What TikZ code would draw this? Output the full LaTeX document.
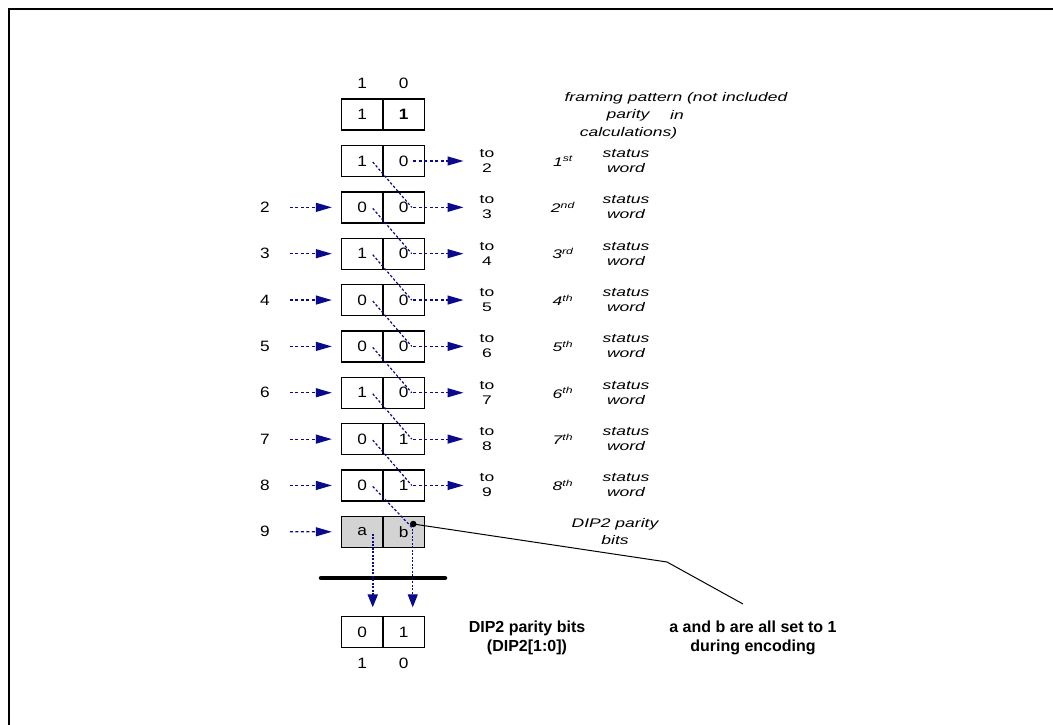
\documentclass[tikz,border=0pt]{standalone}
\usepackage{fontspec}
\setmainfont{Liberation Sans}
\usetikzlibrary{arrows.meta,calc}
\definecolor{navyb}{RGB}{10,10,140}
\definecolor{cellgray}{RGB}{211,211,211}
\newcommand\sx[1]{\scalebox{1.4}[1]{#1}}
\newcommand\sd[1]{\scalebox{1.15}[1]{#1}}
\begin{document}
\begin{tikzpicture}[x=1pt,y=-1pt,
 cell/.style={draw=black, line width=1.3pt, minimum width=41.5pt, minimum height=31pt, inner sep=0pt, font=\fontsize{15}{17}\selectfont},
 lab/.style={inner sep=0pt, font=\fontsize{15}{17}\selectfont},
 small/.style={inner sep=0pt, align=center, font=\fontsize{12.5}{15}\selectfont},
 ital/.style={inner sep=0pt, align=center, font=\fontsize{12.5}{15}\selectfont\itshape},
 boldt/.style={inner sep=0pt, align=center, font=\fontsize{16}{19}\selectfont\bfseries},
 darr/.style={navyb, line width=1.2pt, dash pattern=on 3pt off 2.5pt, -{Triangle[length=16pt,width=9pt]}},
 dline/.style={navyb, line width=1.2pt, dash pattern=on 2.5pt off 2pt},
 varr/.style={navyb, dash pattern=on 2pt off 1.5pt, -{Triangle[length=13pt,width=10pt]}},
]
\useasboundingbox (0,0) rectangle (1053,725);
% frame
\draw[line width=2.5pt] (9,725) -- (9,9) -- (1053,9);

% framing pattern box
\node[cell] (FL) at (362.25,114.5) {\sd{1}};
\node[cell] (FR) at (403.75,114.5) {\sd{\textbf{1}}};
\node[lab] (t1) at (362.25,83) {\sd{1}};
\node[lab] (t0) at (403.75,83) {\sd{0}};

% status word rows
\foreach \i/\l/\r/\o [evaluate=\i as \y using {161+(\i-1)*46.35}] in
  {1/1/0/1\textsuperscript{st}, 2/0/0/2\textsuperscript{nd}, 3/1/0/3\textsuperscript{rd}, 4/0/0/4\textsuperscript{th},
   5/0/0/5\textsuperscript{th}, 6/1/0/6\textsuperscript{th}, 7/0/1/7\textsuperscript{th}, 8/0/1/8\textsuperscript{th}} {
  \node[cell] (L\i) at (362.25,\y) {\sd{\l}};
  \node[cell] (R\i) at (403.75,\y) {\sd{\r}};
  \pgfmathtruncatemacro{\j}{\i+1}
  \node[small] (T\i) at (487,\y) {\sx{to}\\\sx{\j}};
  \node[ital] (O\i) at (563,\y) {\sx{\o}};
  \node[ital] (S\i) at (626,\y) {\sx{status}\\\sx{word}};
  \draw[darr, shorten >=16pt] ($(R\i.center)+(9.5,0)$) -- (T\i.west);
}

% parity row
\node[cell, fill=cellgray] (L9) at (362.25,531.8) {\sd{a}};
\node[cell, fill=cellgray] (R9) at (403.75,531.8) {\sd{b}};

% left inputs
\foreach \i [evaluate=\i as \y using {161+(\i-1)*46.35}] in {2,...,9} {
  \node[lab] (N\i) at (265,\y) {\sd{\i}};
  \draw[darr, shorten >=9pt] ($(N\i.east)+(20,0)$) -- (L\i.west);
}

% diagonals
\foreach \i [evaluate=\i as \j using {int(\i+1)}] in {1,...,7} {
  \draw[dline] ($(L\i.center)+(10.5,1)$) -- ($(R\j.center)+(8,0)$);
}
\node[circle, fill=black, inner sep=0pt, minimum size=6.5pt] (dot) at ($(R9.center)+(9.5,-7.8)$) {};
\draw[dline] ($(L8.center)+(10.5,1)$) -- ($(R9.center)+(8.5,-4)$);

% annotation line
\coordinate (k1) at (667,562);
\coordinate (k2) at (743,604);
\draw[line width=1pt] (dot.center) -- (k1) -- (k2);

% thick bar
\coordinate (barL) at (321,578);
\coordinate (barR) at (445,578);
\draw[line width=4.5pt, line cap=round] (barL) -- (barR);

% result box
\node[cell] (BL) at (362.25,632) {\sd{0}};
\node[cell] (BR) at (403.75,632) {\sd{1}};
\node[lab] (b1) at (362.25,663) {\sd{1}};
\node[lab] (b0) at (403.75,663) {\sd{0}};

% vertical arrows
\draw[varr, line width=2pt, shorten >=8.5pt] ($(L9.center)+(10.5,2)$) -- ($(BL.north)+(10.5,0)$);
\draw[varr, line width=1.1pt, shorten >=8.5pt] ($(R9.center)+(9,-3)$) -- ($(BR.north)+(9,0)$);

% texts
\node[ital] (fr1) at (676,98) {\sx{framing pattern (not included}};
\node[ital] (fr2) at (628,115) {\sx{parity}};
\node[ital] (fr3) at (677,115) {\sx{in}};
\node[ital] (fr4) at (628.5,133) {\sx{calculations)}};
\node[ital] (dp) at (615,531.5) {\sx{DIP2 parity}\\[1.5pt]\sx{bits}};
\node[boldt] (dpb) at (527,637.5) {DIP2 parity bits\\(DIP2[1:0])};
\node[boldt] (ab) at (753,637.5) {a and b are all set to 1\\during encoding};
\end{tikzpicture}
\end{document}
